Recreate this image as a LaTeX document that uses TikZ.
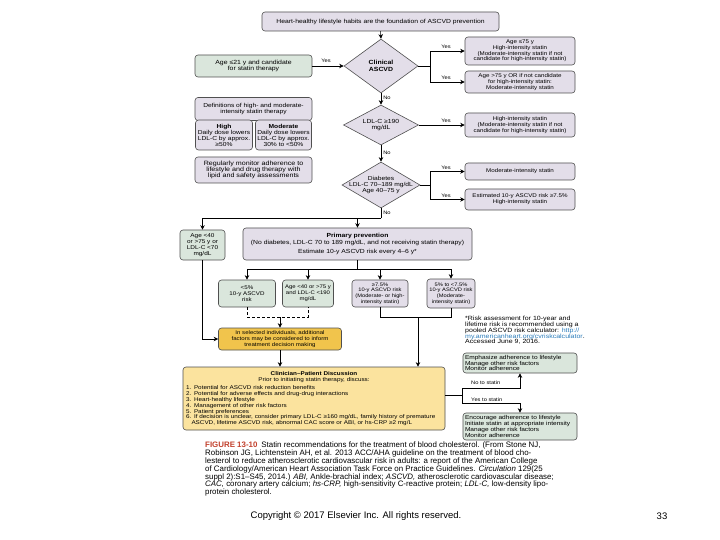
\documentclass[tikz,border=0pt]{standalone}
\usepackage{fontspec}
\setmainfont{Liberation Sans}
\newfontfamily\bxf[FakeStretch=1.15]{Liberation Sans}
\usetikzlibrary{shapes.geometric,arrows.meta}
\definecolor{lavc}{HTML}{E3DEE9}
\definecolor{grnc}{HTML}{DAE6DC}
\definecolor{goldc}{HTML}{F1C44C}
\definecolor{ltgold}{HTML}{FBE39E}
\definecolor{edgec}{HTML}{505050}
\definecolor{figred}{HTML}{C2412D}
\definecolor{linkc}{HTML}{2C7DBB}
\newcommand{\myfs}[2]{\fontsize{#1}{#2}\selectfont}
\begin{document}
\begin{tikzpicture}[x=1pt,y=-1pt,
  box/.style={draw=edgec, line width=0.6pt, rounded corners=3pt, align=center, inner sep=1pt, font=\bxf\myfs{5.5}{5.9}},
  lav/.style={box, fill=lavc},
  grn/.style={box, fill=grnc},
  dia/.style={diamond, draw=edgec, fill=lavc, line width=0.6pt, inner sep=0pt},
  dtxt/.style={align=center, inner sep=0pt},
  arr/.style={-{Stealth[length=4.5pt,width=4.5pt,inset=1.4pt]}, line width=0.6pt},
  ln/.style={line width=0.6pt},
  yn/.style={font=\bxf\myfs{5}{5}, inner sep=0pt}
]
\useasboundingbox (0,0) rectangle (720,540);
\fill[white] (0,0) rectangle (720,540);

% top
\node[lav, minimum width=237pt, minimum height=19pt, font=\bxf\myfs{5.9}{7}] (top) at (380.5,21.5) {Heart-healthy lifestyle habits are the foundation of ASCVD prevention};

% decision diamonds
\node[dia, minimum width=74pt, minimum height=54pt, label={[dtxt, font=\bxf\bfseries\myfs{6}{6.6}]center:Clinical\\ASCVD}] (d1) at (381,66) {};
\node[dia, minimum width=75pt, minimum height=40pt, label={[dtxt, font=\bxf\myfs{5.9}{6.4}]center:LDL-C ≥190\\mg/dL}] (d2) at (381,125) {};
\node[dia, minimum width=78pt, minimum height=46pt, label={[dtxt, font=\bxf\myfs{5.8}{6.2}]center:Diabetes\\LDL-C 70–189 mg/dL\\Age 40–75 y}] (d3) at (381,185) {};

% left boxes
\node[grn, minimum width=117pt, minimum height=22pt, font=\bxf\myfs{6}{6.6}] (age21) at (253.5,66) {Age ≤21 y and candidate\\for statin therapy};
\node[lav, minimum width=117pt, minimum height=23pt, font=\bxf\myfs{5.8}{6.3}] (defh) at (253.5,109) {Definitions of high- and moderate-\\intensity statin therapy};
\node[lav, minimum width=57pt, minimum height=30pt, font=\bxf\myfs{5.8}{6}] (defhi) at (224,135) {\textbf{High}\\Daily dose lowers\\LDL-C by approx.\\≥50\%};
\node[lav, minimum width=56pt, minimum height=30pt, font=\bxf\myfs{5.8}{6}] (defmod) at (283.5,135) {\textbf{Moderate}\\Daily dose lowers\\LDL-C by approx.\\30\% to <50\%};
\node[lav, minimum width=117pt, minimum height=26pt, font=\bxf\myfs{6.2}{6.2}] (monitor) at (253.5,170) {Regularly monitor adherence to\\lifestyle and drug therapy with\\lipid and safety assessments};

% right boxes
\node[lav, minimum width=110pt, minimum height=28pt, font=\bxf\myfs{5.4}{5.8}] (r1) at (520,51) {Age ≤75 y\\High-intensity statin\\(Moderate-intensity statin if not\\candidate for high-intensity statin)};
\node[lav, minimum width=110pt, minimum height=22pt, font=\bxf\myfs{5.4}{5.8}] (r2) at (520,82) {Age >75 y OR if not candidate\\for high-intensity statin:\\Moderate-intensity statin};
\node[lav, minimum width=110pt, minimum height=24pt, font=\bxf\myfs{5.4}{5.8}] (r3) at (520,125) {High-intensity statin\\(Moderate-intensity statin if not\\candidate for high-intensity statin)};
\node[lav, minimum width=110pt, minimum height=17pt, font=\bxf\myfs{5.4}{5.8}] (r4) at (520,171.5) {Moderate-intensity statin};
\node[lav, minimum width=110pt, minimum height=21pt, font=\bxf\myfs{5.4}{5.8}] (r5) at (520,199.5) {Estimated 10-y ASCVD risk ≥7.5\%\\High-intensity statin};

% primary prevention row
\node[grn, minimum width=45pt, minimum height=30pt, font=\bxf\myfs{5.6}{6.2}] (left2) at (202.5,245) {Age <40\\or >75 y or\\LDL-C <70\\mg/dL};
\node[lav, minimum width=229pt, minimum height=32pt, font=\bxf\myfs{5.9}{6.3}] (pp) at (357.5,244) {\textbf{Primary prevention}\\(No diabetes, LDL-C 70 to 189 mg/dL, and not receiving statin therapy)\\[2.5pt]Estimate 10-y ASCVD risk every 4–6 y*};

\node[grn, minimum width=57pt, minimum height=27pt, font=\bxf\myfs{5.4}{5.8}] (b1) at (247,293.5) {<5\%\\10-y ASCVD\\risk};
\node[grn, minimum width=51pt, minimum height=27pt, font=\bxf\myfs{5.2}{5.8}] (b2) at (308,293.5) {Age <40 or >75 y\\and LDL-C <190\\mg/dL};
\node[lav, minimum width=56pt, minimum height=27pt, font=\bxf\myfs{5}{5.6}] (b3) at (380,293.5) {≥7.5\%\\10-y ASCVD risk\\(Moderate- or high-\\intensity statin)};
\node[lav, minimum width=48pt, minimum height=29pt, font=\bxf\myfs{5}{5.6}] (b4) at (451,293.5) {5\% to <7.5\%\\10-y ASCVD risk\\(Moderate-\\intensity statin)};

\node[box, fill=goldc, minimum width=123pt, minimum height=22pt, font=\bxf\myfs{5.3}{5.9}] (sel) at (280,339) {In selected individuals, additional\\factors may be considered to inform\\treatment decision making};

\node[box, fill=ltgold, inner xsep=3pt, text width=256pt, minimum height=63pt, align=left, font=\bxf\myfs{5.5}{5.8}] (clin) at (314,398.5) {\hyphenpenalty=10000\makebox[256pt][c]{\textbf{Clinician–Patient Discussion}}\\
\makebox[256pt][c]{Prior to initiating statin therapy, discuss:}\\[3pt]
1. Potential for ASCVD risk reduction benefits\\
2. Potential for adverse effects and drug-drug interactions\\
3. Heart-healthy lifestyle\\
4. Management of other risk factors\\
5. Patient preferences\\
6. If decision is unclear, consider primary LDL-C ≥160 mg/dL, family history of premature\\
\hspace*{5.5pt}ASCVD, lifetime ASCVD risk, abnormal CAC score or ABI, or hs-CRP ≥2 mg/L};

\node[anchor=north west, align=left, inner sep=0pt, font=\bxf\myfs{6.1}{5.8}] (fn) at (465,316) {*Risk assessment for 10-year and\\lifetime risk is recommended using a\\pooled ASCVD risk calculator: \textcolor{linkc}{http://}\\\textcolor{linkc}{my.americanheart.org/cvriskcalculator}.\\Accessed June 9, 2016.};

\node[grn, align=left, inner xsep=2pt, text width=110pt, minimum height=20pt, font=\bxf\myfs{5.7}{5.9}] (emph) at (520,363) {Emphasize adherence to lifestyle\\Manage other risk factors\\Monitor adherence};
\node[grn, align=left, inner xsep=2pt, text width=110pt, minimum height=27pt, font=\bxf\myfs{5.7}{5.9}] (enc) at (520,426.5) {Encourage adherence to lifestyle\\Initiate statin at appropriate intensity\\Manage other risk factors\\Monitor adherence};

% connectors
\draw[arr] (top.south) -- (d1.north);
\draw[arr] (age21.east) -- (d1.west);
\node[yn] (ya) at (326,61) {Yes};
\coordinate (f1) at (430,66);
\draw[ln] (d1.east) -- (f1);
\draw[arr] (f1) |- (r1.west);
\draw[arr] (f1) |- (r2.west);
\node[yn] (yb) at (446,47) {Yes};
\node[yn] (yc) at (446,78) {Yes};
\draw[arr] (d1.south) -- (d2.north);
\node[yn] (na) at (387,97.5) {No};
\draw[arr] (d2.east) -- (r3.west);
\node[yn] (yd) at (446,121) {Yes};
\draw[arr] (d2.south) -- (d3.north);
\node[yn] (nb) at (387,153) {No};
\coordinate (f3) at (430,185);
\draw[ln] (d3.east) -- (f3);
\draw[arr] (f3) |- (r4.west);
\draw[arr] (f3) |- (r5.west);
\node[yn] (ye) at (446,168) {Yes};
\node[yn] (yf) at (446,196) {Yes};
\node[yn] (nc) at (387,213) {No};
\coordinate (j3) at (381,218);
\draw[ln] (d3.south) -- (j3);
\draw[arr] (j3) -| (left2.north);
\draw[arr] (j3) -| (pp.north);
\coordinate (j4) at (357.5,269);
\draw[ln] (pp.south) -- (j4);
\draw[arr] (j4) -| (b1.north);
\draw[arr] (j4) -| (b2.north);
\draw[arr] (j4) -| (b3.north);
\draw[arr] (j4) -| (b4.north);
\draw[ln, dash pattern=on 3pt off 2pt] (b1.south) -- ++(0,10) -| (b2.south);
\coordinate (dm) at (280,317);
\draw[arr] (dm) -- (sel.north);
\draw[ln] (b3.south) -- ++(0,10) -| (b4.south);
\coordinate (sm) at (418,317);
\draw[arr] (sm) -- (sm |- clin.north);
\draw[arr] (left2.south) |- (sel.west);
\draw[arr] (sel.south) -- (sel.south |- clin.north);
\coordinate (f5) at (462,395);
\coordinate (fn1) at (520,388);
\coordinate (fy1) at (520,403);
\draw[ln] (f5 -| clin.east) -- (f5);
\draw[arr] (f5) |- (fn1) -- (emph.south);
\draw[arr] (f5) |- (fy1) -- (enc.north);
\node[yn, anchor=west] (nst) at (471,383) {No to statin};
\node[yn, anchor=west] (yst) at (471,399.5) {Yes to statin};

% caption
\node[anchor=north west, align=left, inner sep=0pt, font=\myfs{7.9}{7.8}] (cap) at (205,442) {\textcolor{figred}{\textbf{FIGURE 13-10}}\enspace Statin recommendations for the treatment of blood cholesterol. (From Stone NJ,\\
Robinson JG, Lichtenstein AH, et al. 2013 ACC/AHA guideline on the treatment of blood cho-\\
lesterol to reduce atherosclerotic cardiovascular risk in adults: a report of the American College\\
of Cardiology/American Heart Association Task Force on Practice Guidelines. \textit{Circulation} 129(25\\
suppl 2):S1–S45, 2014.) \textit{ABI,} Ankle-brachial index; \textit{ASCVD,} atherosclerotic cardiovascular disease;\\
\textit{CAC,} coronary artery calcium; \textit{hs-CRP,} high-sensitivity C-reactive protein; \textit{LDL-C,} low-density lipo-\\
protein cholesterol.};

\node[font=\myfs{9.5}{11}, inner sep=0pt] (copy) at (356,516) {Copyright © 2017 Elsevier Inc. All rights reserved.};
\node[font=\myfs{9.5}{11}, inner sep=0pt] (pg) at (662,516) {33};
\end{tikzpicture}
\end{document}
